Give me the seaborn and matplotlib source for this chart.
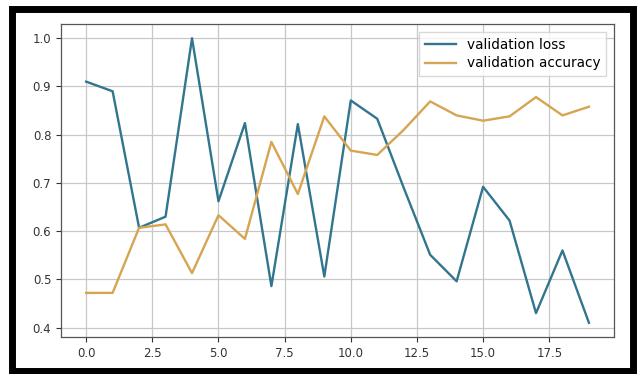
import numpy as np
import pandas as pd
import seaborn as sns
import matplotlib.pyplot as plt
from matplotlib.patches import Rectangle

# values
epochs = list(range(20))
val_loss = [0.910, 0.890, 0.607, 0.630, 1.000, 0.662, 0.824, 0.486, 0.822, 0.506,
            0.871, 0.833, 0.690, 0.551, 0.496, 0.692, 0.622, 0.430, 0.560, 0.410]
val_acc = [0.472, 0.472, 0.607, 0.614, 0.513, 0.633, 0.584, 0.785, 0.677, 0.838,
           0.767, 0.758, 0.810, 0.869, 0.840, 0.829, 0.838, 0.878, 0.840, 0.858]

df = pd.DataFrame({'epoch': epochs, 'validation loss': val_loss,
                   'validation accuracy': val_acc})

plt.rcParams['font.family'] = ['DejaVu Sans']
fig = plt.figure(figsize=(6.37, 3.74), dpi=100)
ax = fig.add_axes([0.0958, 0.0989, 0.964 - 0.0958, 0.9358 - 0.0989])

sns.lineplot(data=df, x='epoch', y='validation loss', ax=ax, color='#31758f',
             linewidth=1.7, label='validation loss')
sns.lineplot(data=df, x='epoch', y='validation accuracy', ax=ax, color='#d6a552',
             linewidth=1.7, label='validation accuracy')

ax.set_xlabel('')
ax.set_ylabel('')
ax.grid(True, color='#c8c8c8', linewidth=0.9)
ax.set_axisbelow(True)
ax.tick_params(labelsize=8.5, colors='#333333', length=3.5)
for sp in ax.spines.values():
    sp.set_color('#555555')
    sp.set_linewidth(0.9)
ax.legend(loc='upper right', fontsize=9.8, frameon=True, fancybox=False,
          edgecolor='#d0d0d0', handlelength=2.3, borderaxespad=0.6,
          labelspacing=0.35)

# thick black frame around the whole picture
frame = Rectangle((11.5 / 637, 1 - 371 / 374), (632.5 - 11.5) / 637, (371 - 8.5) / 374,
                  transform=fig.transFigure, fill=False, edgecolor='black',
                  linewidth=5, zorder=10)
fig.patches.append(frame)

fig.savefig('out.png', dpi=100)
